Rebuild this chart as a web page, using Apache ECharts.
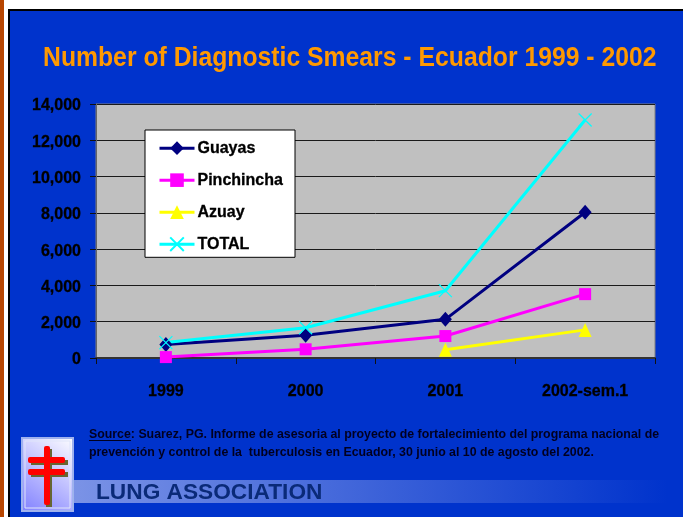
<!DOCTYPE html>
<html>
<head>
<meta charset="utf-8">
<title>Number of Diagnostic Smears</title>
<script src="https://cdn.jsdelivr.net/npm/echarts@6/dist/echarts.min.js"></script>
<style>
html,body{margin:0;padding:0;background:#fff;}
#main{width:683px;height:517px;}
</style>
</head>
<body>
<div id="main"></div>
<script>
var categories = ['1999', '2000', '2001', '2002-sem.1'];
var guayas = [750, 1250, 2130, 8030];
var pinchincha = [50, 480, 1210, 3520];
var azuay = [null, null, 450, 1550];
var total = [850, 1670, 3710, 13120];
var yTicks = {min: 0, max: 14000, interval: 2000};

var fontName = '"Liberation Sans", Arial, sans-serif';
var crossPath = 'path://M0 0L10 10M10 0L0 10';

var chart = echarts.init(document.getElementById('main'));

function lineSeries(name, data, color, symbol, size) {
    return {
        name: name,
        type: 'line',
        data: data,
        symbol: symbol,
        symbolSize: size,
        showSymbol: true,
        connectNulls: false,
        animation: false,
        lineStyle: {color: color, width: 3},
        itemStyle: {color: color, borderColor: color, borderWidth: 0}
    };
}

var totalSeries = lineSeries('TOTAL', total, '#00ffff', crossPath, 13);
totalSeries.itemStyle = {color: 'rgba(0,0,0,0)', borderColor: '#00ffff', borderWidth: 1.2};

var option = {
    animation: false,
    backgroundColor: '#ffffff',
    grid: {
        left: 96, top: 104, width: 559, height: 254,
        show: true, backgroundColor: '#c0c0c0', borderColor: '#808080', borderWidth: 1
    },
    legend: {
        left: 145, top: 130,
        orient: 'vertical',
        backgroundColor: '#ffffff',
        borderColor: '#000000',
        borderWidth: 1,
        borderRadius: 0,
        padding: [10, 12, 5, 13],
        itemWidth: 35,
        itemHeight: 17,
        itemGap: 15.7,
        align: 'left',
        lineStyle: {width: 3},
        textStyle: {color: '#000', fontFamily: fontName, fontWeight: 'bold', fontSize: 16, padding: [0, 0, 0, -2], textBorderColor: '#000', textBorderWidth: 0.3},
        data: ['Guayas', 'Pinchincha', 'Azuay', 'TOTAL']
    },
    xAxis: {
        type: 'category',
        data: categories,
        boundaryGap: true,
        axisLine: {lineStyle: {color: '#333333', width: 2}},
        axisTick: {show: true, alignWithLabel: false, length: 6, lineStyle: {color: '#111', width: 1}},
        axisLabel: {color: '#000', fontFamily: fontName, fontWeight: 'bold', fontSize: 16, margin: 26, interval: 0, textBorderColor: '#000', textBorderWidth: 0.3},
        splitLine: {show: false}
    },
    yAxis: {
        type: 'value',
        min: yTicks.min, max: yTicks.max, interval: yTicks.interval,
        axisLine: {show: true, lineStyle: {color: '#666666', width: 1}},
        axisTick: {show: true, length: 6, lineStyle: {color: '#111', width: 1}},
        axisLabel: {
            margin: 15,
            formatter: function (v) { return '{a|' + v.toLocaleString('en-US') + '}'; },
            rich: {a: {color: '#000', fontFamily: fontName, fontWeight: 'bold', fontSize: 16, padding: [4, 0, 0, 0], textBorderColor: '#000', textBorderWidth: 0.3}}
        },
        splitLine: {show: true, lineStyle: {color: '#1a1a1a', width: 1}}
    },
    series: [
        lineSeries('Guayas', guayas, '#000080', 'diamond', [13, 15]),
        lineSeries('Pinchincha', pinchincha, '#ff00ff', 'rect', 12),
        lineSeries('Azuay', azuay, '#ffff00', 'triangle', [13, 14]),
        totalSeries
    ],
    graphic: [
        // slide background and frame
        {type: 'rect', z: -10, silent: true, shape: {x: 0, y: 0, width: 4, height: 517}, style: {fill: '#b84600'}},
        {type: 'rect', z: -10, silent: true, shape: {x: 8, y: 9, width: 675, height: 508}, style: {fill: '#000000'}},
        {type: 'rect', z: -10, silent: true, shape: {x: 10, y: 11, width: 673, height: 506}, style: {fill: '#0033cc'}},
        // title
        {type: 'text', left: 43, top: 44, z: 5, silent: true, scaleX: 0.884, style: {
            text: 'Number of Diagnostic Smears - Ecuador 1999 - 2002',
            fill: '#ff9900', font: 'bold 28px ' + fontName
        }},
        // source note
        {type: 'text', left: 89, top: 426, z: 5, silent: true, style: {
            text: 'Source: Suarez, PG. Informe de asesoria al proyecto de fortalecimiento del programa nacional de\nprevención y control de la  tuberculosis en Ecuador, 30 junio al 10 de agosto del 2002.',
            fill: '#000020', font: 'bold 12.35px ' + fontName, lineHeight: 18
        }},
        {type: 'line', z: 5, silent: true, shape: {x1: 89, y1: 440.5, x2: 131, y2: 440.5}, style: {stroke: '#000020', lineWidth: 1}},
        // footer band
        {type: 'rect', z: 1, silent: true, shape: {x: 73, y: 480, width: 594, height: 23}, style: {
            fill: new echarts.graphic.LinearGradient(0, 0, 1, 0, [
                {offset: 0, color: '#7b93e6'},
                {offset: 1, color: '#0033cc'}
            ])
        }},
        {type: 'text', left: 96, top: 481, z: 5, silent: true, style: {
            text: 'LUNG ASSOCIATION', fill: '#0a2a78', font: 'bold 22.7px ' + fontName
        }},
        // logo
        {type: 'rect', z: 2, silent: true, shape: {x: 22, y: 438, width: 51, height: 73}, style: {
            fill: new echarts.graphic.LinearGradient(0, 1, 1, 0, [
                {offset: 0, color: '#7f7fff'},
                {offset: 1, color: '#ffffff'}
            ]), stroke: '#9fb2ee', lineWidth: 2
        }},
        {type: 'rect', z: 2, silent: true, shape: {x: 25, y: 441, width: 45, height: 67}, style: {fill: 'none', stroke: '#dfe5fa', lineWidth: 1}},
        {type: 'rect', z: 3, silent: true, shape: {x: 46, y: 449, width: 6, height: 58}, style: {fill: '#666633'}},
        {type: 'rect', z: 3, silent: true, shape: {x: 31, y: 460, width: 37, height: 5}, style: {fill: '#666633'}},
        {type: 'rect', z: 3, silent: true, shape: {x: 31, y: 472, width: 37, height: 5}, style: {fill: '#666633'}},
        {type: 'rect', z: 4, silent: true, shape: {x: 44, y: 446, width: 6, height: 59, r: 2}, style: {fill: '#ff0000'}},
        {type: 'rect', z: 4, silent: true, shape: {x: 28, y: 457, width: 37, height: 6, r: 2}, style: {fill: '#ff0000'}},
        {type: 'rect', z: 4, silent: true, shape: {x: 28, y: 469, width: 37, height: 6, r: 2}, style: {fill: '#ff0000'}}
    ]
};

chart.setOption(option);
</script>
</body>
</html>
